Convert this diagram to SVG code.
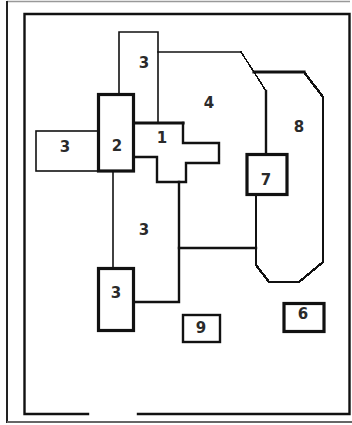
<svg xmlns="http://www.w3.org/2000/svg" width="352" height="425" viewBox="0 0 352 425">
  <style>
    .wall { fill: none; stroke: #111; stroke-linecap: square; stroke-linejoin: miter; }
    .thin { stroke-width: 1.6; }
    .mid { stroke-width: 2.4; }
    .thick { stroke-width: 3.2; }
    .stair { shape-rendering: crispEdges; }
    .lbl { font-family: "DejaVu Sans", "Liberation Sans", sans-serif; font-weight: bold; font-size: 15px; fill: #2a2a2a; text-anchor: middle; }
  </style>
  <rect width="352" height="425" fill="#fff"/>

  <!-- page border -->
  <g id="frame">
    <line x1="7" y1="1.5" x2="350" y2="1.5" stroke="#999" stroke-width="1.5"/>
    <line x1="7" y1="1" x2="7" y2="423" stroke="#222" stroke-width="2"/>
    <line x1="7" y1="422" x2="352" y2="422" stroke="#666" stroke-width="2"/>
    <path class="wall mid" d="M88,414 H24.5 V14 H349.5 V414 H138" stroke="#333"/>
  </g>

  <!-- rooms -->
  <g id="room-3-top">
    <path class="wall thin" d="M119,94 V32 H158 V122"/>
    <text class="lbl" x="144" y="68">3</text>
  </g>

  <g id="room-4">
    <path class="wall thin" d="M158,52 H241"/>
    <path class="wall thin stair" d="M241,52 L254,72 L266,91"/>
    <path class="wall mid" d="M266,91 V153"/>
    <text class="lbl" x="209" y="108">4</text>
  </g>

  <g id="room-8">
    <path class="wall thick" d="M254,72 H304"/>
    <path class="wall mid stair" d="M304,72 L323,97 V262 L299,282 H269 L256,265 V195"/>
    <text class="lbl" x="299" y="132">8</text>
  </g>

  <g id="room-7">
    <rect class="wall thick" x="247" y="154.5" width="40" height="40"/>
    <text class="lbl" x="266" y="185">7</text>
  </g>

  <g id="room-1">
    <path class="wall thick" d="M134,123 H183"/>
    <path class="wall mid" d="M183,123 V143 H219 V163 H186 V182 H157 V157 H134"/>
    <text class="lbl" x="162" y="143">1</text>
  </g>

  <g id="room-2">
    <rect class="wall thick" x="98.5" y="94.5" width="35" height="76.5"/>
    <text class="lbl" x="117" y="151">2</text>
  </g>

  <g id="room-3-left">
    <rect class="wall thin" x="36" y="131" width="62.5" height="40"/>
    <text class="lbl" x="65" y="152">3</text>
  </g>

  <g id="room-3-middle">
    <path class="wall thin" d="M113,171 V268"/>
    <path class="wall mid" d="M179,182 V302 H134"/>
    <path class="wall mid" d="M179,248 H256"/>
    <text class="lbl" x="144" y="235">3</text>
  </g>

  <g id="room-3-bottom">
    <rect class="wall thick" x="98.5" y="268.5" width="35" height="62"/>
    <text class="lbl" x="116" y="298">3</text>
  </g>

  <g id="room-9">
    <rect class="wall mid" x="183" y="315" width="37" height="27"/>
    <text class="lbl" x="201" y="333">9</text>
  </g>

  <g id="room-6">
    <rect class="wall thick" x="284" y="303.5" width="40" height="28"/>
    <text class="lbl" x="303" y="319">6</text>
  </g>
</svg>
